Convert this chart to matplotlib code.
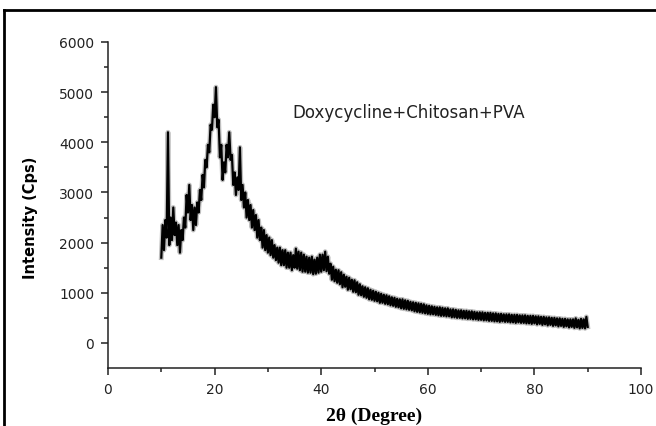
import numpy as np
import matplotlib.pyplot as plt
from matplotlib.lines import Line2D

# 2theta grid, 4 readings per degree from 10 to 90
two_theta_start = 10.0
two_theta_step = 0.25

# intensity (cps), one row per degree
intensity = [
    1700, 2350, 1850, 2450,   # 10
    2100, 4200, 1950, 2500,   # 11
    2050, 2700, 2150, 2400,   # 12
    1950, 2350, 1800, 2250,   # 13
    2050, 2500, 2300, 2950,   # 14
    2600, 3150, 2450, 2750,   # 15
    2250, 2700, 2350, 2800,   # 16
    2600, 3050, 2850, 3350,   # 17
    3100, 3650, 3500, 3950,   # 18
    3800, 4350, 4250, 4750,   # 19
    4500, 5100, 4300, 4450,   # 20
    3700, 3950, 3250, 3600,   # 21
    3400, 3950, 3700, 4200,   # 22
    3650, 3750, 3150, 3400,   # 23
    2950, 3300, 3050, 3900,   # 24
    2850, 3150, 2700, 3000,   # 25
    2500, 2850, 2450, 2750,   # 26
    2300, 2650, 2250, 2550,   # 27
    2100, 2450, 2050, 2300,   # 28
    1900, 2250, 1850, 2150,   # 29
    1800, 2100, 1750, 2050,   # 30
    1700, 1950, 1650, 1900,   # 31
    1600, 1900, 1550, 1850,   # 32
    1550, 1850, 1500, 1800,   # 33
    1500, 1800, 1450, 1750,   # 34
    1500, 1880, 1480, 1820,   # 35
    1450, 1800, 1420, 1760,   # 36
    1420, 1720, 1400, 1700,   # 37
    1400, 1720, 1370, 1660,   # 38
    1380, 1700, 1400, 1760,   # 39
    1420, 1760, 1450, 1820,   # 40
    1430, 1720, 1380, 1580,   # 41
    1260, 1520, 1230, 1460,   # 42
    1200, 1450, 1170, 1410,   # 43
    1110, 1360, 1120, 1320,   # 44
    1060, 1300, 1070, 1260,   # 45
    1020, 1250, 1010, 1210,   # 46
    960, 1170, 950, 1130,     # 47
    920, 1110, 900, 1090,     # 48
    870, 1060, 860, 1040,     # 49
    840, 1020, 830, 1000,     # 50
    800, 980, 800, 960,       # 51
    780, 950, 770, 930,       # 52
    750, 910, 740, 900,       # 53
    720, 880, 710, 870,       # 54
    690, 870, 680, 850,       # 55
    670, 840, 660, 820,       # 56
    650, 810, 630, 800,       # 57
    620, 790, 610, 780,       # 58
    600, 770, 590, 750,       # 59
    580, 740, 570, 730,       # 60
    570, 720, 560, 710,       # 61
    550, 710, 540, 700,       # 62
    540, 690, 530, 690,       # 63
    530, 670, 510, 670,       # 64
    510, 660, 500, 650,       # 65
    500, 650, 490, 640,       # 66
    490, 640, 480, 630,       # 67
    480, 630, 470, 620,       # 68
    470, 610, 460, 610,       # 69
    460, 610, 450, 600,       # 70
    450, 600, 440, 600,       # 71
    440, 590, 430, 590,       # 72
    430, 580, 420, 580,       # 73
    430, 570, 420, 570,       # 74
    420, 570, 410, 560,       # 75
    410, 560, 400, 560,       # 76
    410, 550, 400, 550,       # 77
    400, 550, 390, 540,       # 78
    390, 540, 380, 540,       # 79
    390, 530, 370, 530,       # 80
    380, 520, 360, 520,       # 81
    370, 510, 350, 510,       # 82
    360, 500, 340, 500,       # 83
    350, 490, 330, 490,       # 84
    340, 480, 320, 480,       # 85
    330, 470, 310, 470,       # 86
    320, 470, 300, 490,       # 87
    310, 460, 290, 480,       # 88
    300, 470, 290, 520,       # 89
    320,                      # 90
]

sample_label = "Doxycycline+Chitosan+PVA"
x_ticks = [0, 20, 40, 60, 80, 100]
y_ticks = [0, 1000, 2000, 3000, 4000, 5000, 6000]

two_theta = two_theta_start + two_theta_step * np.arange(len(intensity))

fig = plt.figure(figsize=(6.56, 4.27), dpi=100)
ax = fig.add_axes([108 / 656, 1 - 369 / 427, 533 / 656, 326 / 427])

# soft grey halo under the trace, like the scanned original
ax.plot(two_theta, intensity, color='black', lw=3.5, alpha=0.25,
        solid_joinstyle='round')
ax.plot(two_theta, intensity, color='black', lw=1.6, solid_joinstyle='round')

ax.set_xlim(0, 100)
ax.set_ylim(-500, 6000)
ax.set_xticks(x_ticks)
ax.set_xticks(np.arange(10, 100, 20), minor=True)
ax.set_yticks(y_ticks)
ax.set_yticks(np.arange(500, 6000, 1000), minor=True)

for s in ['top', 'right']:
    ax.spines[s].set_visible(False)
for s in ['left', 'bottom']:
    ax.spines[s].set_linewidth(1.1)
    ax.spines[s].set_color('#222222')

ax.tick_params(which='major', length=5, width=1.1, color='#222222',
               labelsize=10, labelcolor='#222222', pad=5)
ax.tick_params(which='minor', length=3, width=1.1, color='#222222')
for lab in ax.get_xticklabels() + ax.get_yticklabels():
    lab.set_family('DejaVu Sans')

ax.set_ylabel('Intensity (Cps)', fontsize=10.5, fontweight='bold',
              family=['DejaVu Sans'])
ax.yaxis.set_label_coords(-0.132, 0.463)
ax.set_xlabel('2θ (Degree)', fontsize=14, fontweight='bold',
              family=['Liberation Serif', 'DejaVu Serif'], labelpad=8)

ax.text(34.5, 4500, sample_label, fontsize=12, family='DejaVu Sans',
        color='#222222', va='baseline', ha='left')

# frame of the original (cropped on right and bottom)
fig.add_artist(Line2D([4 / 656, 4 / 656], [0, 1 - 11 / 427],
                      transform=fig.transFigure, color='black', lw=2))
fig.add_artist(Line2D([4 / 656, 1], [1 - 11 / 427, 1 - 11 / 427],
                      transform=fig.transFigure, color='black', lw=2))

fig.savefig('out.png', dpi=100)
